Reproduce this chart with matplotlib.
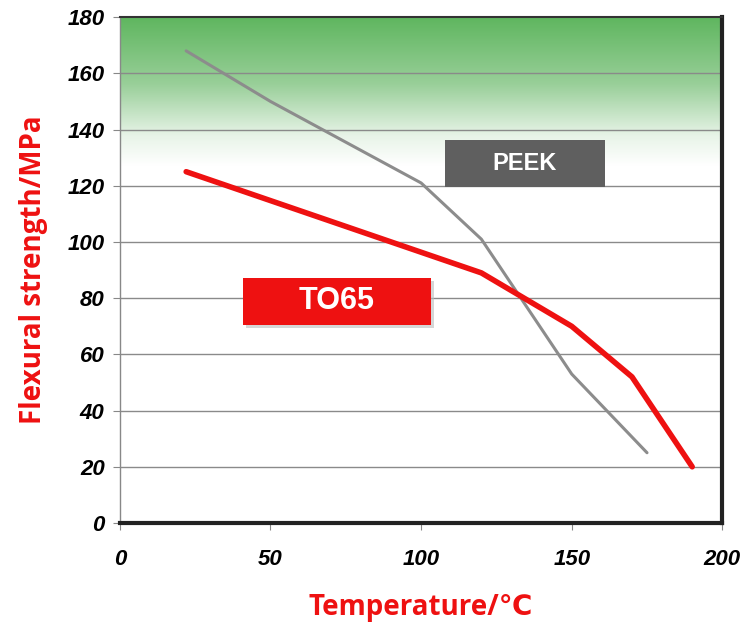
import numpy as np
import matplotlib
matplotlib.use("Agg")
import matplotlib.pyplot as plt
from matplotlib.colors import LinearSegmentedColormap
from matplotlib.patches import Rectangle

# Data
to65_temp = [22, 120, 150, 170, 190]
to65_strength = [125, 89, 70, 52, 20]
peek_temp = [22, 50, 100, 120, 150, 175]
peek_strength = [168, 150, 121, 101, 53, 25]
x_ticks = [0, 50, 100, 150, 200]
y_ticks = [0, 20, 40, 60, 80, 100, 120, 140, 160, 180]

fig = plt.figure(figsize=(7.54, 6.23), dpi=100)
ax = fig.add_axes([0.159, 0.1605, 0.799, 0.812])
ax.set_xlim(0, 200)
ax.set_ylim(0, 180)

# green gradient background at top
grad = np.linspace(0, 1, 256).reshape(-1, 1)
cmap = LinearSegmentedColormap.from_list("g", [(0, "#ffffff"), (0.2, "#e8f4e8"), (0.55, "#99cf99"), (1.0, "#5fb65f")])
ax.imshow(grad, extent=[0, 200, 127, 180], origin="lower", aspect="auto", cmap=cmap, zorder=0)

for y in y_ticks[1:-1]:
    ax.axhline(y, color="#8a8a8a", lw=1.0, zorder=1)

ax.plot(peek_temp, peek_strength, color="#8c8c8c", lw=2.2, zorder=3, solid_capstyle="round")
ax.plot(to65_temp, to65_strength, color="#ee1111", lw=4.0, zorder=4, solid_capstyle="round")

# label boxes
ax.add_patch(Rectangle((108, 119.6), 53, 16.7, fc="#5f5f5f", ec="none", zorder=5))
ax.text(134.5, 128, "PEEK", ha="center", va="center", fontsize=17, fontweight="bold",
        color="white", family="Liberation Sans", zorder=6)
ax.add_patch(Rectangle((42, 69.5), 62.3, 16.7, fc="#bbbbbb", ec="none", zorder=5, alpha=0.6))
ax.add_patch(Rectangle((41, 70.5), 62.3, 16.7, fc="#ee1111", ec="none", zorder=5))
ax.text(72, 79, "TO65", ha="center", va="center", fontsize=22, fontweight="bold",
        color="white", family="Liberation Sans", zorder=6)

ax.set_xticks(x_ticks)
ax.set_yticks(y_ticks)
ax.set_xticklabels([str(v) for v in x_ticks], fontsize=16, fontweight="bold", style="italic", family="Liberation Sans")
ax.set_yticklabels([str(v) for v in y_ticks], fontsize=16, fontweight="bold", style="italic", family="Liberation Sans")
ax.tick_params(axis="both", length=5, color="#888888", pad=6)
ax.tick_params(axis="x", pad=14)

for s in ["right", "bottom"]:
    ax.spines[s].set_linewidth(3.0)
    ax.spines[s].set_color("#222222")
ax.spines["top"].set_linewidth(1.5)
ax.spines["top"].set_color("#333333")
ax.spines["left"].set_linewidth(1.0)
ax.spines["left"].set_color("#888888")

ax.set_xlabel("Temperature/℃", fontsize=20, fontweight="bold", color="#ee1111",
              family=["Open Sans", "DejaVu Sans"], labelpad=16)
ax.set_ylabel("Flexural strength/MPa", fontsize=20, fontweight="bold", color="#ee1111",
              family=["Open Sans", "DejaVu Sans"], labelpad=14)

fig.savefig("out.png", dpi=100)
